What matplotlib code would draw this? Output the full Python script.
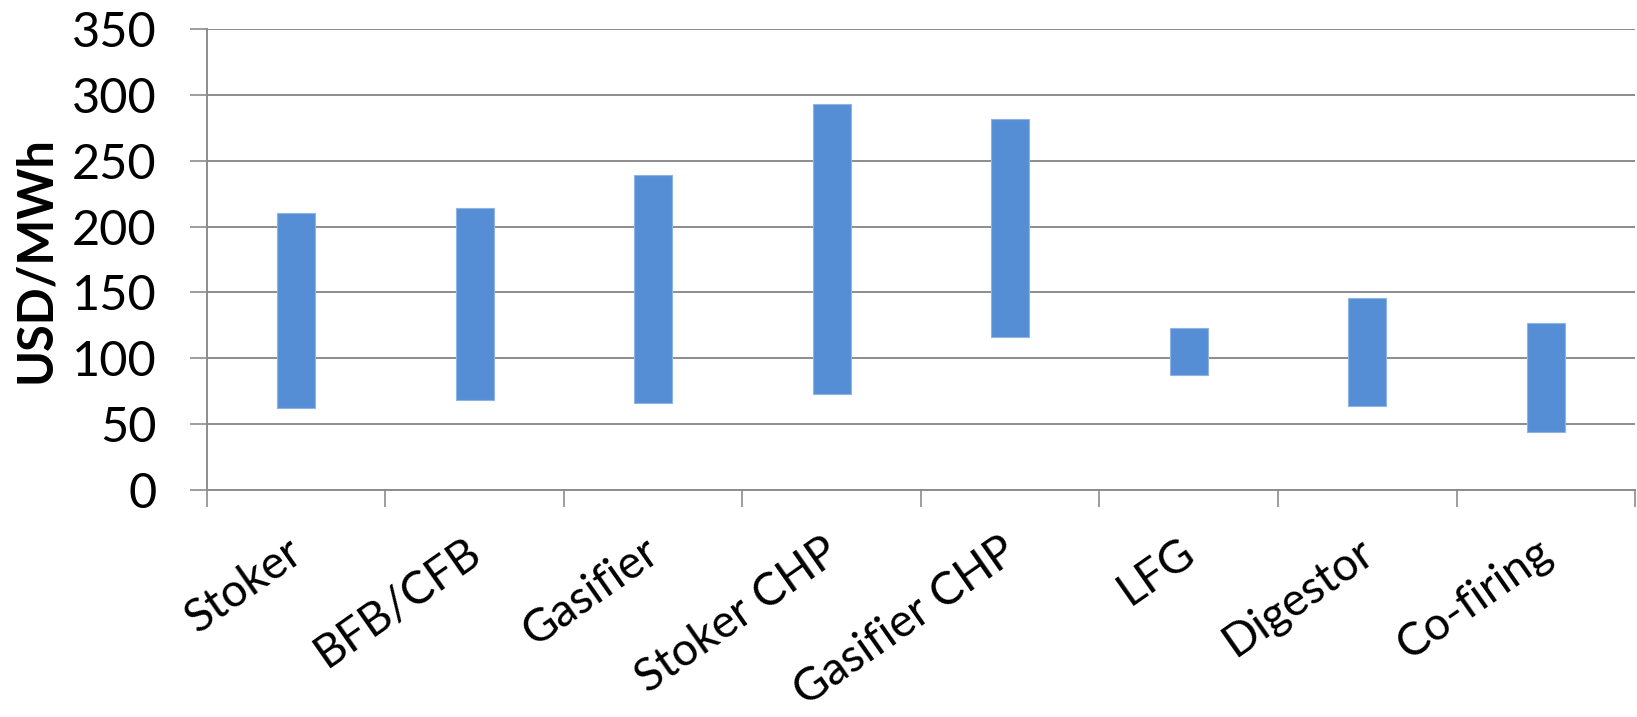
import matplotlib.pyplot as plt
import matplotlib.transforms as mtransforms
import numpy as np

categories = ["Stoker", "BFB/CFB", "Gasifier", "Stoker CHP", "Gasifier CHP",
              "LFG", "Digestor", "Co-firing"]
low = [62, 68, 66, 73, 116, 87, 64, 44]
high = [210, 214, 239, 293, 282, 123, 146, 127]

plt.rcParams['font.family'] = ['Lato', 'DejaVu Sans']

grid_color = '#8C8C8C'
bar_color = '#558ED5'

fig = plt.figure(figsize=(16.37, 7.17), dpi=100)
ax = fig.add_axes([0.1263, 0.3166, 0.8725, 0.6430])

x = np.arange(len(categories)) + 0.5
span = np.array(high) - np.array(low)
ax.bar(x, span, bottom=low, width=0.213, color=bar_color,
       edgecolor='#8FB4E3', linewidth=0.8, zorder=3)

ax.set_xlim(0, len(categories))
ax.set_ylim(0, 350)
ax.set_yticks(np.arange(0, 351, 50))
ax.yaxis.grid(True, color=grid_color, linewidth=1.4, zorder=0)
ax.set_axisbelow(True)

# category ticks sit on the boundaries, labels in the middle
ax.set_xticks(np.arange(0, len(categories) + 1))
ax.set_xticklabels([])
ax.set_xticks(x, minor=True)
ax.set_xticklabels(categories, minor=True, rotation=35, ha='right',
                   rotation_mode='anchor', fontsize=33)
ax.tick_params(axis='x', which='minor', length=0, pad=29)
ax.tick_params(axis='x', which='major', length=12, width=1.2, color=grid_color)
ax.tick_params(axis='y', length=12, width=1.2, color=grid_color, pad=24,
               labelsize=35)

# nudge the slanted labels a little to the left
shift = mtransforms.ScaledTranslation(-10 / 100, 0, fig.dpi_scale_trans)
for lbl in ax.get_xticklabels(minor=True):
    lbl.set_transform(lbl.get_transform() + shift)

for side in ['top', 'right']:
    ax.spines[side].set_visible(False)
for side in ['left', 'bottom']:
    ax.spines[side].set_color(grid_color)
    ax.spines[side].set_linewidth(1.4)

ax.set_ylabel("USD/MWh", fontsize=35, fontweight='bold')
ax.yaxis.label.set_va('center')
ax.yaxis.set_label_coords(-0.1202, 0.5)

fig.savefig("out.png", dpi=100)
